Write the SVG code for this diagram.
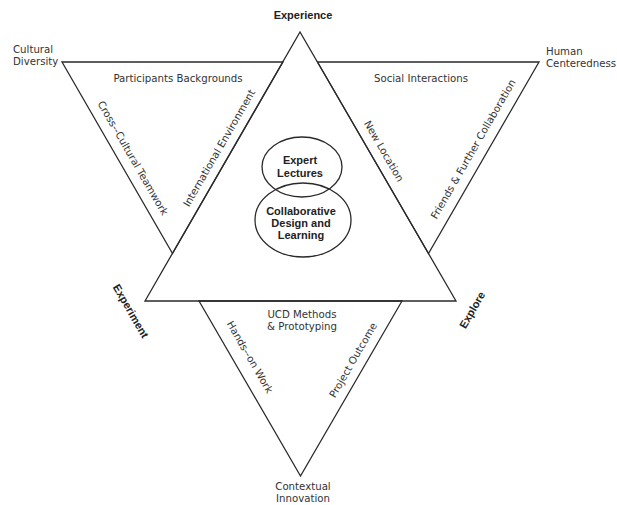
<svg xmlns="http://www.w3.org/2000/svg" width="617" height="505" viewBox="0 0 617 505">
<style>
.ln{fill:none;stroke:#2a2a2a;stroke-width:1.3;stroke-linejoin:miter}
.t{font-family:"DejaVu Sans",Verdana,sans-serif;font-size:10.2px;fill:#333}
.b{font-family:"Liberation Sans",Arial,sans-serif;font-size:11px;font-weight:bold;fill:#222}
.m{text-anchor:middle}
</style>
<rect width="617" height="505" fill="#fff"/>
<g id="connectors">
<polygon id="left-triangle" class="ln" points="62,62 283,62 172.5,253.5"/>
<polygon id="right-triangle" class="ln" points="317.5,62 539,62 428.5,253.5"/>
<polygon id="bottom-triangle" class="ln" points="199,301 402,301 300.5,476"/>
<polygon id="center-triangle" class="ln" points="300,32 145,301 456,301"/>
</g>
<g id="node-experience"><text class="b m" x="303" y="19">Experience</text></g>
<g id="node-cultural-diversity"><text class="t" x="13" y="53">Cultural</text><text class="t" x="13" y="65">Diversity</text></g>
<g id="node-human-centeredness"><text class="t" x="546" y="55">Human</text><text class="t" x="546" y="67">Centeredness</text></g>
<g id="node-experiment"><text class="b m" transform="translate(131,311) rotate(60)" y="4">Experiment</text></g>
<g id="node-explore"><text class="b m" transform="translate(472,310) rotate(-60)" y="4">Explore</text></g>
<g id="node-contextual-innovation"><text class="t m" x="303" y="490">Contextual</text><text class="t m" x="303" y="502">Innovation</text></g>
<g id="node-expert-lectures">
<ellipse class="ln" cx="302" cy="167" rx="40" ry="30"/>
<text class="b m" x="300" y="164">Expert</text><text class="b m" x="300" y="177">Lectures</text>
</g>
<g id="node-collaborative">
<ellipse class="ln" cx="303" cy="220" rx="48" ry="37"/>
<text class="b m" x="301" y="215">Collaborative</text><text class="b m" x="301" y="227">Design and</text><text class="b m" x="301" y="239">Learning</text>
</g>
<g id="edge-labels">
<text class="t m" x="178" y="82">Participants Backgrounds</text>
<text class="t m" x="421" y="82">Social Interactions</text>
<text class="t m" transform="translate(133,158) rotate(60)" y="3.7">Cross--Cultural Teamwork</text>
<text class="t m" transform="translate(219,148) rotate(-60)" y="3.7">International Environment</text>
<text class="t m" transform="translate(384,151) rotate(60)" y="3.7">New Location</text>
<text class="t m" transform="translate(473,149) rotate(-60)" y="3.7">Friends &amp; Further Collaboration</text>
<text class="t m" x="302" y="318">UCD Methods</text>
<text class="t m" x="302" y="330">&amp; Prototyping</text>
<text class="t m" transform="translate(250,357) rotate(60)" y="3.7">Hands--on Work</text>
<text class="t m" transform="translate(353,360) rotate(-60)" y="3.7">Project Outcome</text>
</g>
</svg>
